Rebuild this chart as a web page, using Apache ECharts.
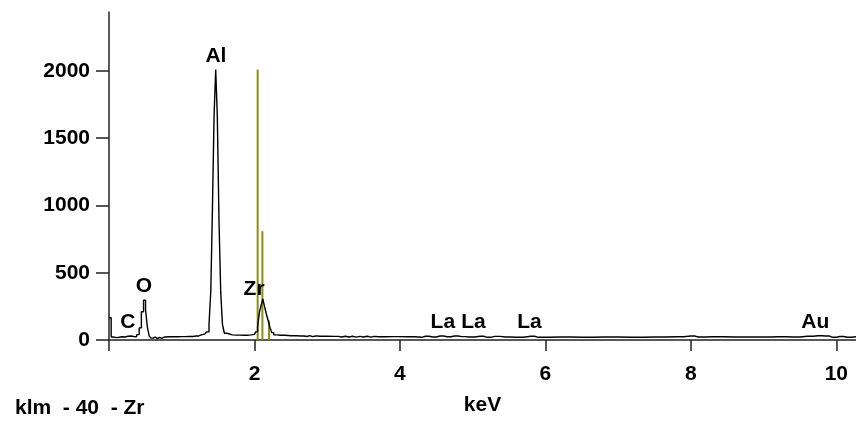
<!DOCTYPE html>
<html>
<head>
<meta charset="utf-8">
<script src="https://cdn.jsdelivr.net/npm/echarts@6/dist/echarts.min.js"></script>
<style>
  html, body { margin: 0; padding: 0; background: #fff; }
  #chart { width: 856px; height: 421px; }
</style>
</head>
<body>
<div id="chart"></div>
<script>
// spectrum (keV, counts)
var energy = [0.00, 0.02, 0.04, 0.08, 0.12, 0.16, 0.20, 0.24, 0.28, 0.32, 0.36,
    0.40, 0.43, 0.46, 0.49, 0.515, 0.54, 0.565, 0.59, 0.62, 0.65, 0.68, 0.71, 0.74,
    0.78, 0.90, 1.00, 1.10, 1.20, 1.27, 1.32, 1.36, 1.39, 1.41, 1.433, 1.456, 1.478,
    1.50, 1.525, 1.548, 1.572, 1.60, 1.64, 1.75, 1.85, 1.95, 2.00, 2.03, 2.055, 2.08,
    2.105, 2.125, 2.15, 2.175, 2.20, 2.225, 2.25, 2.28, 2.35, 2.50, 2.65, 2.72, 2.76,
    2.80, 2.84, 2.90, 3.10, 3.20, 3.25, 3.30, 3.35, 3.40, 3.45, 3.50, 3.55, 3.60, 3.65,
    3.70, 3.90, 4.10, 4.30, 4.35, 4.45, 4.55, 4.65, 4.75, 4.85, 4.95, 5.10, 5.20, 5.30,
    5.45, 5.60, 5.80, 5.90, 6.20, 6.50, 6.80, 7.20, 7.50, 7.80, 8.00, 8.10, 8.30, 8.60,
    9.00, 9.20, 9.40, 9.60, 9.75, 9.85, 9.95, 10.05, 10.15, 10.27];
var counts = [165, 165, 22, 18, 20, 24, 22, 28, 30, 26, 24,
    40, 90, 210, 295, 225, 95, 30, 14, 22, 10, 20, 12, 22,
    24, 24, 25, 26, 30, 38, 45, 60, 115, 370, 965, 1665, 2010,
    1665, 880, 350, 115, 50, 38, 36, 35, 38, 42, 60, 95, 205,
    260, 305, 250, 195, 145, 95, 55, 38, 35, 32, 30, 26, 32,
    25, 30, 28, 27, 22, 28, 22, 28, 21, 27, 22, 28, 21, 27,
    24, 25, 24, 20, 28, 22, 30, 24, 30, 25, 22, 28, 20, 27,
    22, 20, 28, 20, 22, 20, 22, 20, 22, 24, 30, 22, 24, 22,
    22, 24, 22, 28, 32, 30, 20, 26, 20, 24];

// Zr line markers (olive)
var zrLineEnergy = [2.044, 2.109, 2.200];
var zrLineHeight = [2010, 808, 145];

// element labels
var peakNames = ['C', 'O', 'Al', 'Zr', 'La', 'La', 'La', 'Au'];
var peakEnergy = [0.26, 0.48, 1.47, 1.995, 4.59, 5.01, 5.78, 9.71];
var peakLabelY = [133, 398, 2106, 380, 133, 133, 133, 133];

var xTicks = [2, 4, 6, 8, 10];

var font = 'Liberation Sans, Arial, sans-serif';

var spectrum = energy.map(function (e, i) { return [e, counts[i]]; });
var zrLines = zrLineEnergy.map(function (e, i) { return [e, zrLineHeight[i]]; });
var labels = peakNames.map(function (n, i) {
    return { name: n, value: [peakEnergy[i], peakLabelY[i]] };
});

var chart = echarts.init(document.getElementById('chart'));

var option = {
    animation: false,
    backgroundColor: '#fff',
    title: {
        text: 'klm  - 40  - Zr',
        left: 10,
        top: 393,
        textStyle: { fontFamily: font, fontSize: 21, fontWeight: 'bold', color: '#000' }
    },
    grid: { left: 109, right: 0, top: 12, bottom: 78, containLabel: false },
    xAxis: {
        type: 'value',
        min: 0,
        max: 10.27,
        interval: 2,
        name: 'keV',
        nameLocation: 'middle',
        nameGap: 55,
        nameTextStyle: { fontFamily: font, fontSize: 21, fontWeight: 'bold', color: '#000' },
        axisLine: { show: true, onZero: false, lineStyle: { color: '#222', width: 1.5 } },
        axisTick: { show: true, length: 11, lineStyle: { color: '#222', width: 1.5 } },
        axisLabel: {
            margin: 24,
            showMaxLabel: false,
            fontFamily: font, fontSize: 21, fontWeight: 'bold', color: '#000',
            formatter: function (v) { return xTicks.indexOf(v) >= 0 ? String(v) : ''; }
        },
        splitLine: { show: false }
    },
    yAxis: {
        type: 'value',
        min: 0,
        max: 2437,
        interval: 500,
        axisLine: { show: true, lineStyle: { color: '#222', width: 1.5 } },
        axisTick: { show: true, length: 13, lineStyle: { color: '#222', width: 1.5 } },
        axisLabel: {
            margin: 19,
            showMaxLabel: false,
            fontFamily: font, fontSize: 21, fontWeight: 'bold', color: '#000',
            formatter: function (v) { return String(v); }
        },
        splitLine: { show: false }
    },
    series: [
        {
            name: 'Zr lines',
            type: 'bar',
            data: zrLines,
            barWidth: 2,
            itemStyle: { color: '#8c8c14' },
            z: 1
        },
        {
            name: 'spectrum',
            type: 'line',
            step: 'middle',
            data: spectrum,
            showSymbol: false,
            lineStyle: { color: '#000', width: 1.4 },
            z: 2
        },
        {
            name: 'labels',
            type: 'scatter',
            data: labels,
            symbolSize: 0,
            itemStyle: { opacity: 1, color: '#000' },
            label: {
                show: true,
                position: 'inside',
                formatter: '{b}',
                opacity: 1,
                fontFamily: font, fontSize: 21, fontWeight: 'bold', color: '#000'
            },
            z: 3
        }
    ]
};

chart.setOption(option);
</script>
</body>
</html>
